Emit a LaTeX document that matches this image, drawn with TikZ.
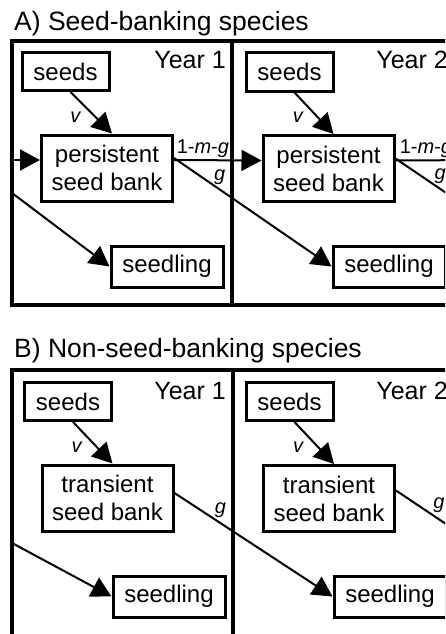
\documentclass[tikz,border=0pt]{standalone}
\usepackage{fontspec}
\setmainfont{Liberation Sans}
\usetikzlibrary{arrows.meta}
\tikzstyle{node:box}=[draw,line width=3pt,inner sep=0pt,align=center,font=\fontsize{24}{28}\selectfont]
\tikzstyle{node:seeds}=[node:box,minimum width=87pt,minimum height=38pt]
\tikzstyle{node:bank}=[node:box,minimum width=131pt,minimum height=66pt]
\tikzstyle{node:seedling}=[node:box,minimum width=112pt,minimum height=41pt]
\tikzstyle{node:year}=[anchor=base east,inner sep=0pt,font=\fontsize{25}{30}\selectfont]
\tikzstyle{node:title}=[anchor=base west,inner sep=0pt,font=\fontsize{26.5}{30}\selectfont]
\tikzstyle{node:rate}=[inner sep=1pt,font=\fontsize{20}{24}\selectfont]
\tikzstyle{draw:frame}=[line width=4pt]
\tikzstyle{draw:connection}=[-{Triangle[length=20pt,width=21pt]},line width=2pt]

\begin{document}
\begin{tikzpicture}[x=1pt,y=-1pt]
        \useasboundingbox (0,0) rectangle (445,634);
        \clip (0,0) rectangle (445,634);

        % A) seed-banking species
        \node[node:title] (titleA) at (14,31) {A) Seed-banking species};
        \draw[draw:frame] (12,41) rectangle (453,305);
        \draw[draw:frame] (232,41) -- (232,305);
        \node[node:year] (yearA1) at (226,68) {Year 1};
        \node[node:year] (yearA2) at (448,68) {Year 2};

        \node[node:seeds] (seedsA1) at (65.5,71.5) {seeds};
        \node[node:bank] (bankA1) at (107,168) {persistent\\seed bank};
        \node[node:seedling] (seedlingA1) at (167,266.5) {seedling};

        \node[node:seeds] (seedsA2) at (289.5,72) {seeds};
        \node[node:bank] (bankA2) at (328.5,168.5) {persistent\\seed bank};
        \node[node:seedling] (seedlingA2) at (389,266.5) {seedling};

        \coordinate (inA) at (12,160);
        \coordinate (prevA) at (12,193);
        \coordinate (outA) at (485,160);
        \coordinate (nextA) at (555,267);

        % B) non-seed-banking species
        \node[node:title] (titleB) at (14,357) {B) Non-seed-banking species};
        \draw[draw:frame] (12,660) |- (453,370);
        \draw[draw:frame] (233,370) -- (233,660);
        \node[node:year] (yearB1) at (226,399) {Year 1};
        \node[node:year] (yearB2) at (448,399) {Year 2};

        \node[node:seeds] (seedsB1) at (68,401.5) {seeds};
        \node[node:bank] (bankB1) at (107.5,498) {transient\\seed bank};
        \node[node:seedling] (seedlingB1) at (169,596.5) {seedling};

        \node[node:seeds] (seedsB2) at (289.5,401.5) {seeds};
        \node[node:bank] (bankB2) at (329,498.5) {transient\\seed bank};
        \node[node:seedling] (seedlingB2) at (390,596.5) {seedling};

        \coordinate (prevB) at (12,543);
        \coordinate (nextB) at (555,597);

        % seed production into the bank
        \foreach \p in {A1,A2,B1,B2} {
                \draw[draw:connection] ([xshift=5pt]seeds\p.south) -- node[node:rate,pos=0.6,left=12pt] (v\p) {\textit{v}} ([xshift=5pt]bank\p.north);
            }

        % carry-over and germination, panel A
        \draw[draw:connection] (inA) -- ([yshift=8pt]bankA1.west);
        \draw[draw:connection] (prevA) -- (seedlingA1.west);
        \draw[draw:connection] ([yshift=8pt]bankA1.east) -- node[node:rate,pos=0.33,above=1pt] (stayA1) {1-\textit{m}-\textit{g}} ([yshift=8pt]bankA2.west);
        \draw[draw:connection] ([yshift=10pt]bankA1.east) -- node[node:rate,pos=0.29,above=3pt] (gA1) {\textit{g}} (seedlingA2.west);
        \draw[draw:connection] ([yshift=8pt]bankA2.east) -- node[node:rate,pos=0.34,above=1pt] (stayA2) {1-\textit{m}-\textit{g}} (outA);
        \draw[draw:connection] ([yshift=10pt]bankA2.east) -- node[node:rate,pos=0.28,above=3pt] (gA2) {\textit{g}} (nextA);

        % germination only, panel B
        \draw[draw:connection] (prevB) -- (seedlingB1.west);
        \draw[draw:connection] ([yshift=5pt]bankB1.east) -- node[node:rate,pos=0.29,above=3pt] (gB1) {\textit{g}} (seedlingB2.west);
        \draw[draw:connection] ([yshift=8pt]bankB2.east) -- node[node:rate,pos=0.27,above=5pt] (gB2) {\textit{g}} (nextB);

    \end{tikzpicture}
\end{document}
